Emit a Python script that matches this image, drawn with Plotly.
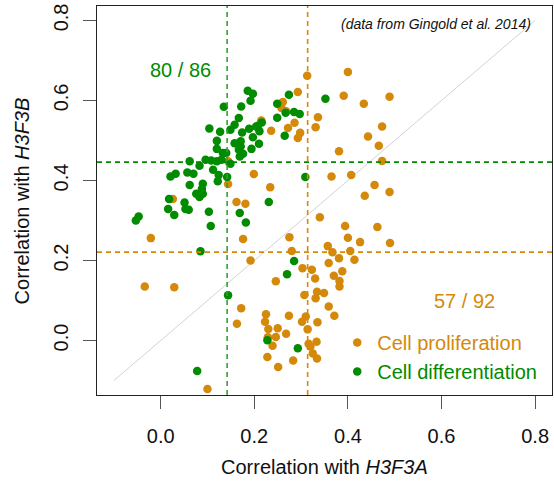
import plotly.graph_objects as go

# ---------------- data ----------------
prolif_x = [0.313, 0.400, 0.293, 0.391, 0.434, 0.489, 0.261, 0.258, 0.336, 0.286,
            0.331, 0.272, 0.298, 0.293, 0.236, 0.215, 0.443, 0.473, 0.466, 0.473,
            0.381, 0.199, 0.365, 0.407, 0.457, 0.489, 0.436, 0.234, 0.162, 0.181,
            0.340, 0.394, 0.463, 0.144, 0.144, 0.026, -0.021, -0.034, 0.029, 0.100,
            0.176, 0.275, 0.192, 0.280, 0.400, 0.426, 0.490, 0.357, 0.367, 0.405,
            0.381, 0.414, 0.359, 0.303, 0.323, 0.330, 0.388, 0.370, 0.382, 0.382,
            0.246, 0.307, 0.334, 0.349, 0.331, 0.359, 0.371, 0.172, 0.163, 0.225,
            0.223, 0.274, 0.310, 0.302, 0.335, 0.314, 0.230, 0.250, 0.268, 0.246,
            0.229, 0.239, 0.316, 0.333, 0.320, 0.325, 0.334, 0.228, 0.283, 0.251,
            0.268]
prolif_y = [0.662, 0.671, 0.621, 0.612, 0.592, 0.609, 0.596, 0.581, 0.558, 0.544,
            0.533, 0.531, 0.519, 0.506, 0.524, 0.550, 0.510, 0.535, 0.487, 0.449,
            0.473, 0.416, 0.410, 0.414, 0.389, 0.371, 0.362, 0.383, 0.346, 0.342,
            0.308, 0.286, 0.284, 0.448, 0.391, 0.354, 0.256, 0.135, 0.133, -0.121,
            0.254, 0.258, 0.200, 0.224, 0.257, 0.246, 0.244, 0.236, 0.221, 0.224,
            0.206, 0.202, 0.194, 0.181, 0.177, 0.155, 0.173, 0.162, 0.149, 0.135,
            0.148, 0.114, 0.122, 0.119, 0.106, 0.085, 0.062, 0.081, 0.042, 0.066,
            0.047, 0.062, 0.060, 0.047, 0.046, 0.028, 0.029, 0.031, 0.017, 0.009,
            0.008, -0.013, -0.008, -0.003, -0.015, -0.032, -0.045, -0.041, -0.050, -0.066,
            0.573]

diff_x = [0.135, 0.104, 0.127, 0.120, 0.120, 0.149, 0.158, 0.167, 0.158, 0.140,
          0.062, 0.083, 0.096, 0.108, 0.120, 0.130, 0.149, 0.057, 0.070, 0.021,
          0.032, 0.112, 0.124, 0.122, 0.142, 0.062, 0.090, 0.088, 0.076, 0.090,
          0.083, 0.018, 0.016, 0.029, 0.051, 0.053, 0.060, 0.103, 0.107, -0.047,
          -0.053, 0.169, 0.186, 0.197, 0.192, 0.172, 0.174, 0.189, 0.208, 0.216,
          0.211, 0.197, 0.210, 0.194, 0.171, 0.167, 0.176, 0.169, 0.274, 0.249,
          0.249, 0.267, 0.285, 0.297, 0.265, 0.352, 0.309, 0.231, 0.182, 0.085,
          0.144, 0.078, 0.228, 0.293, 0.285, 0.270, 0.204, 0.171, 0.133]
diff_y = [0.584, 0.530, 0.522, 0.499, 0.479, 0.527, 0.539, 0.556, 0.493, 0.469,
          0.448, 0.437, 0.452, 0.450, 0.448, 0.452, 0.442, 0.420, 0.417, 0.410,
          0.417, 0.427, 0.414, 0.398, 0.409, 0.389, 0.392, 0.379, 0.367, 0.367,
          0.359, 0.354, 0.329, 0.314, 0.345, 0.329, 0.327, 0.322, 0.286, 0.310,
          0.300, 0.319, 0.624, 0.617, 0.599, 0.585, 0.520, 0.529, 0.537, 0.545,
          0.523, 0.508, 0.492, 0.479, 0.498, 0.477, 0.467, 0.460, 0.614, 0.592,
          0.557, 0.569, 0.571, 0.566, 0.512, 0.604, 0.409, 0.346, 0.295, 0.223,
          0.113, -0.076, 0.001, -0.019, 0.199, 0.166, 0.535, 0.485, 0.469]

diag = [-0.1, 0.8]
thr_diff_x, thr_diff_y = 0.142, 0.446
thr_prolif_x, thr_prolif_y = 0.314, 0.221
ticks = [0.0, 0.2, 0.4, 0.6, 0.8]
tick_text = ["0.0", "0.2", "0.4", "0.6", "0.8"]

ORANGE = "#D4890B"
GREEN = "#008B00"
FONT = "Liberation Sans, Arial, Helvetica, sans-serif"

fig = go.Figure()
fig.add_trace(go.Scatter(x=diag, y=diag, mode="lines",
                         line=dict(color="#D3D3D3", width=1),
                         showlegend=False, hoverinfo="skip"))
fig.add_trace(go.Scatter(x=prolif_x, y=prolif_y, mode="markers",
                         name="<span style='color:%s'>Cell proliferation</span>" % ORANGE,
                         marker=dict(color=ORANGE, size=8.5, line=dict(width=0)),
                         legendrank=1))
fig.add_trace(go.Scatter(x=diff_x, y=diff_y, mode="markers",
                         name="<span style='color:%s'>Cell differentiation</span>" % GREEN,
                         marker=dict(color=GREEN, size=8.5, line=dict(width=0)),
                         legendrank=2))

dash = "5px,4px"
fig.add_vline(x=thr_diff_x, line=dict(color="#2EA52E", width=1.6, dash=dash))
fig.add_hline(y=thr_diff_y, line=dict(color=GREEN, width=1.6, dash=dash))
fig.add_vline(x=thr_prolif_x, line=dict(color=ORANGE, width=1.6, dash=dash))
fig.add_hline(y=thr_prolif_y, line=dict(color=ORANGE, width=1.6, dash=dash))

axis_common = dict(
    range=[-0.136, 0.836], tickvals=ticks, ticktext=tick_text,
    ticks="outside", ticklen=13, tickwidth=1, tickcolor="#555555",
    showline=True, mirror=True, linecolor="#222222", linewidth=1,
    showgrid=False, zeroline=False,
    tickfont=dict(family=FONT, size=20, color="#111111"),
)

fig.update_layout(
    width=554, height=485,
    margin=dict(l=97, r=2, t=6, b=90),
    paper_bgcolor="white", plot_bgcolor="white",
    font=dict(family=FONT, color="#111111"),
    xaxis=dict(**axis_common, ticklabelstandoff=10),
    yaxis=dict(**axis_common, tickangle=-90, ticklabelstandoff=7),
    showlegend=True,
    legend=dict(x=0.528, y=0.185, xanchor="left", yanchor="top",
                bgcolor="rgba(0,0,0,0)", borderwidth=0,
                font=dict(family=FONT, size=20, color=ORANGE),
                itemsizing="trace", tracegroupgap=0),
)

fig.add_annotation(x=0.5, y=-0.186, xref="paper", yref="paper",
                   text="Correlation with <i>H3F3A</i>", showarrow=False,
                   font=dict(family=FONT, size=20, color="#111111"),
                   xanchor="center", yanchor="middle")
fig.add_annotation(x=-0.165, y=0.5, xref="paper", yref="paper",
                   text="Correlation with <i>H3F3B</i>", showarrow=False,
                   textangle=-90,
                   font=dict(family=FONT, size=20, color="#111111"),
                   xanchor="center", yanchor="middle")
fig.add_annotation(x=0.043, y=0.677, text="80 / 86", showarrow=False,
                   font=dict(family=FONT, size=20, color=GREEN))
fig.add_annotation(x=0.650, y=0.099, text="57 / 92", showarrow=False,
                   font=dict(family=FONT, size=20, color=ORANGE))
fig.add_annotation(x=0.589, y=0.791, text="<i>(data from Gingold et al. 2014)</i>",
                   showarrow=False,
                   font=dict(family=FONT, size=14, color="#111111"))

fig.write_html("out.html")
